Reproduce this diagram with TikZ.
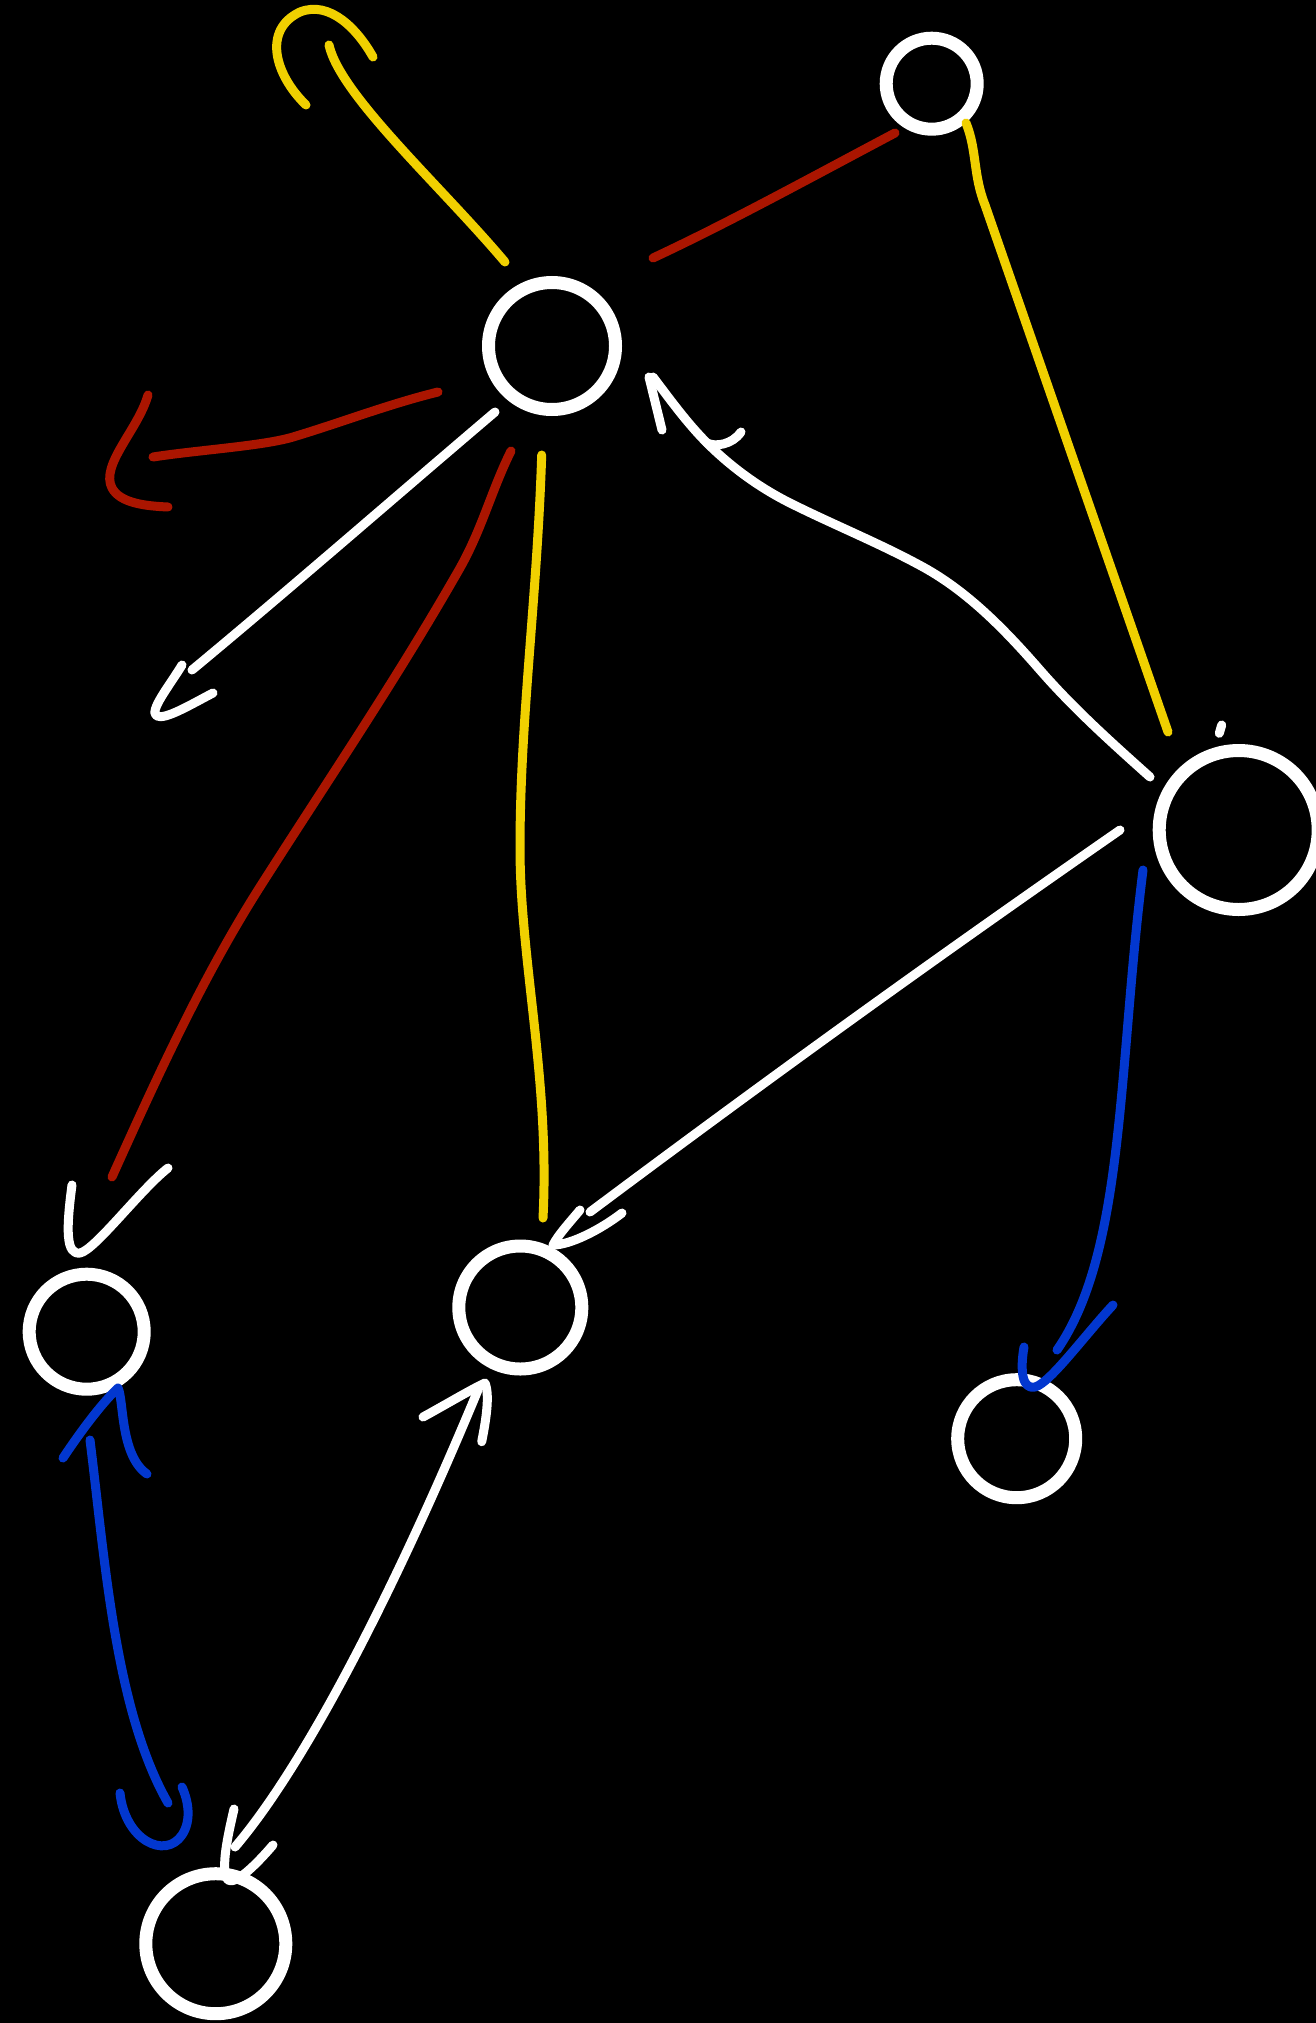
\documentclass[tikz,border=0pt]{standalone}
\definecolor{yel}{HTML}{F0D000}
\definecolor{rd}{HTML}{AA1500}
\definecolor{bl}{HTML}{0237CF}
\tikzset{
  ring/.style={circle, draw=white, line width=13pt, inner sep=0pt, fill=none},
  wire/.style={line width=9pt, line cap=round, line join=round}
}
\begin{document}
\begin{tikzpicture}[x=1pt, y=-1pt]
\useasboundingbox (0,0) rectangle (1316,2023);
\fill[black] (0,0) rectangle (1316,2023);

% nodes
\node[ring, minimum size=127pt] (A) at (552,346) {};
\node[ring, minimum size=91pt]  (B) at (931.7,83.7) {};
\node[ring, minimum size=159pt] (C) at (1238.7,830) {};
\node[ring, minimum size=115pt] (D) at (86.7,1331.7) {};
\node[ring, minimum size=123pt] (E) at (520.3,1307.5) {};
\node[ring, minimum size=118pt] (F) at (1016.7,1438.7) {};
\node[ring, minimum size=140pt] (G) at (215.8,1943.7) {};

% yellow self arrow from A up-left with hook
\draw[wire, yel] (505,262) .. controls (440,185) and (340,95) .. (329,45);
\draw[wire, yel] (306,105) .. controls (275,75) and (262,30) .. (300,12)
                 .. controls (330,0) and (358,30) .. (373,57);

% red A -- B
\draw[wire, rd] (653,258) .. controls (730,222) and (810,178) .. (895,133);

% yellow B -- C
\draw[wire, yel] (966,123) .. controls (977,150) and (973,175) .. (985,205) -- (1168,732);
% small white tick near C
\draw[wire, white] (1221.7,725) -- (1219.3,733.3);

% white C -> A
\draw[wire, white] (1150,777) .. controls (1112,743) and (1073.5,708.5) .. (1040,670)
                   .. controls (1006,631) and (968.5,592) .. (923,567)
                   .. controls (880,543.4) and (834,525) .. (790,503)
                   .. controls (759.6,487.8) and (731,467) .. (707,443)
                   .. controls (687,423) and (670,399.4) .. (653,377);
\draw[wire, white] (662,430) -- (649,377);
\draw[wire, white] (707,443) .. controls (715,447) and (732,445) .. (741,432);

% white A -> dangling lower-left
\draw[wire, white] (495,412) .. controls (395,497) and (292,587) .. (192,670);
\draw[wire, white] (182,665) .. controls (170,685) and (148,712) .. (157,716)
                   .. controls (165,720) and (190,705) .. (213,693);

% red A -> dangling left
\draw[wire, rd] (438,392) .. controls (389,404) and (341,422.6) .. (293,437)
                .. controls (263,446) and (198,450) .. (153,457);
\draw[wire, rd] (148,395) .. controls (138,430) and (100,465) .. (112,488)
                .. controls (120,503) and (145,506) .. (168,507);

% red A -> D with white head
\draw[wire, rd] (511,451) .. controls (492,489) and (482,529) .. (460,568)
                .. controls (395,682) and (326,783) .. (258,890)
                .. controls (201,980.5) and (156,1079.4) .. (112,1177);
\draw[wire, white] (72,1185) .. controls (66,1230) and (66,1255) .. (80,1253)
                   .. controls (95,1250) and (140,1190) .. (168,1168);

% yellow A -- E
\draw[wire, yel] (541.7,455) .. controls (537,600) and (520,720) .. (520,848)
                 .. controls (520,960) and (550,1080) .. (543,1218);

% white C -> E
\draw[wire, white] (1120,830) .. controls (940,955) and (780,1070) .. (590,1212);
\draw[wire, white] (580,1210) .. controls (570,1222) and (558,1235) .. (553,1245)
                   .. controls (570,1245) and (600,1230) .. (622,1213);

% blue C -> F
\draw[wire, bl] (1143,870) .. controls (1118,1068) and (1125,1252) .. (1057,1350);
\draw[wire, bl] (1024,1347) .. controls (1020,1370) and (1022,1390) .. (1035,1387)
                .. controls (1050,1383) and (1085,1335) .. (1113,1305);

% white E <-> G
\draw[wire, white] (235,1847) .. controls (305,1765) and (395,1590) .. (478,1390);
\draw[wire, white] (423,1417) .. controls (445,1405) and (470,1390) .. (485,1383)
                   .. controls (490,1395) and (486,1420) .. (481.7,1441.7);
\draw[wire, white] (234,1809) .. controls (228,1835) and (220,1870) .. (228,1880)
                   .. controls (235,1885) and (255,1866) .. (273,1845);

% blue G <-> D
\draw[wire, bl] (90,1440) .. controls (105,1560) and (115,1710) .. (168,1803);
\draw[wire, bl] (63,1458) .. controls (85,1425) and (105,1400) .. (118,1388)
                .. controls (124,1400) and (120,1455) .. (147,1474);
\draw[wire, bl] (120,1793) .. controls (125,1840) and (165,1860) .. (182,1835)
                .. controls (192,1820) and (188,1800) .. (182,1787);
\end{tikzpicture}
\end{document}
